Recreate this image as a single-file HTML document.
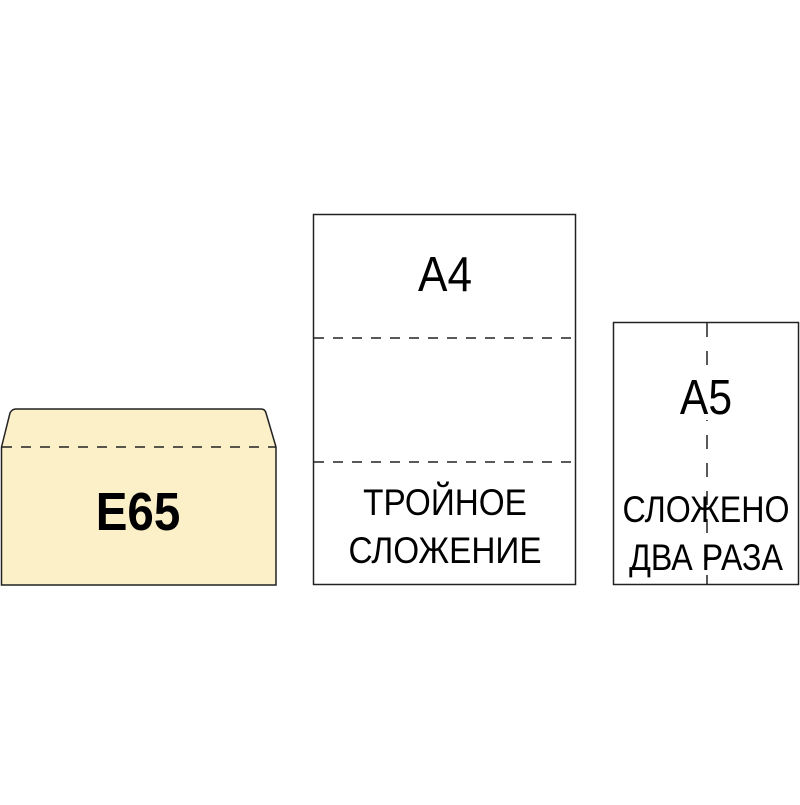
<!DOCTYPE html><html><head><style>body{margin:0;background:#fff}</style></head><body>
<svg width="800" height="800" xmlns="http://www.w3.org/2000/svg" font-family="Liberation Sans, sans-serif">
<rect width="800" height="800" fill="#fff"/>
<path d="M1.5,447 L10,413 Q12,409 16,409 L261,409 Q265,409 266,413 L276,447 L276,585 L1.5,585 Z" fill="#fcf0c8" stroke="#222" stroke-width="1.5"/>
<line x1="2" y1="447" x2="276" y2="447" stroke="#222" stroke-width="1.5" stroke-dasharray="10,9"/>
<text x="138" y="530" font-size="54" font-weight="bold" text-anchor="middle" transform="translate(138,0) scale(0.88,1) translate(-138,0)">E65</text>
<rect x="313.5" y="214.5" width="262" height="370" fill="#fff" stroke="#222" stroke-width="1.5"/>
<line x1="314" y1="338" x2="575" y2="338" stroke="#222" stroke-width="1.5" stroke-dasharray="10,9"/>
<line x1="314" y1="462" x2="575" y2="462" stroke="#222" stroke-width="1.5" stroke-dasharray="10,9"/>
<g transform="translate(445,0) scale(0.9,1)">
<text x="0" y="291" font-size="49" text-anchor="middle">A4</text>
<text x="0" y="515" font-size="37" text-anchor="middle">ТРОЙНОЕ</text>
<text x="0" y="563" font-size="37" text-anchor="middle">СЛОЖЕНИЕ</text>
</g>
<rect x="613.5" y="322.5" width="185" height="262" fill="#fff" stroke="#222" stroke-width="1.5"/>
<line x1="707" y1="323" x2="707" y2="584" stroke="#222" stroke-width="1.5" stroke-dasharray="14,14"/>
<g transform="translate(706,0) scale(0.87,1)">
<rect x="-30" y="370" width="60" height="50" fill="#fff"/>
<text x="0" y="414" font-size="49" text-anchor="middle">A5</text>
<text x="0" y="522" font-size="37" text-anchor="middle">СЛОЖЕНО</text>
<text x="0" y="570" font-size="37" text-anchor="middle">ДВА РАЗА</text>
</g>
</svg>
</body></html>
